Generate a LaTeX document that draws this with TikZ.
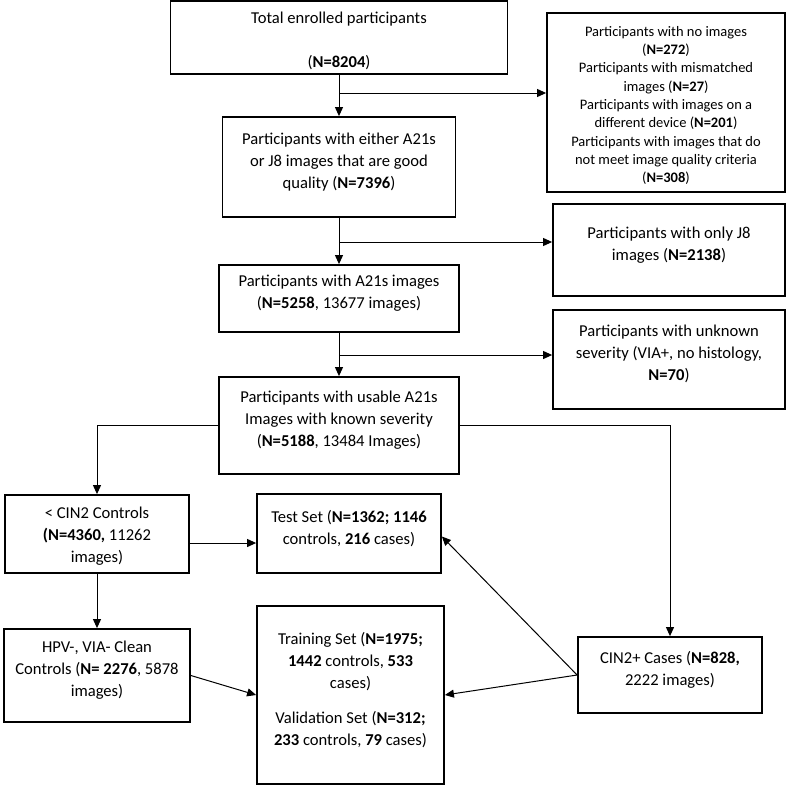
\documentclass[tikz,border=0pt]{standalone}
\usepackage{fontspec}
\setmainfont{Carlito}
\usepackage{tikz}
\usetikzlibrary{arrows.meta,positioning}

\begin{document}
\begin{tikzpicture}[
  x=1pt, y=-1pt,
  font=\fontsize{16.6}{22}\selectfont,
  box/.style={draw, line width=1.8pt, align=center, inner sep=2pt},
  small/.style={font=\fontsize{14.5}{18.3}\selectfont},
  lift/.style={execute at end node={\rule[-13pt]{0pt}{13pt}}},
  arr/.style={-{Triangle[length=9pt,width=8pt]}, line width=1pt}
]
\useasboundingbox (0,0) rectangle (787,785);
\node[box, minimum width=337pt, minimum height=73pt] (a) at (339,37.5) {\rule{0pt}{18.6pt}Total enrolled participants\\[22pt](\textbf{N=8204})};
\node[box, lift, minimum width=233pt, minimum height=100pt] (b) at (339,167) {Participants with either A21s\\or J8 images that are good\\quality (\textbf{N=7396})};
\node[box, small, minimum width=238pt, minimum height=179pt] (x) at (666,102.5) {\rule{0pt}{16pt}Participants with no images\\(\textbf{N=272})\\Participants with mismatched\\images (\textbf{N=27})\\Participants with images on a\\different device (\textbf{N=201})\\Participants with images that do\\not meet image quality criteria\\(\textbf{N=308})};
\node[box, lift, minimum width=240pt, minimum height=67pt] (c) at (339,298.5) {Participants with A21s images\\(\textbf{N=5258}, 13677 images)};
\node[box, lift, minimum width=232pt, minimum height=92pt] (j) at (669,250) {Participants with only J8\\images (\textbf{N=2138})};
\node[box, lift, minimum width=240pt, minimum height=97pt] (d) at (339,425.5) {Participants with usable A21s\\Images with known severity\\(\textbf{N=5188}, 13484 Images)};
\node[box, lift, minimum width=232pt, minimum height=99pt] (u) at (669,359.5) {Participants with unknown\\severity (VIA+, no histology,\\\textbf{N=70})};
\node[box, minimum width=184pt, minimum height=78pt] (e) at (97,534) {\rule{0pt}{16pt}< CIN2 Controls\\\textbf{(N=4360,} 11262\\images)};
\node[box, lift, minimum width=184pt, minimum height=79pt] (t) at (349,533.5) {Test Set (\textbf{N=1362; 1146}\\controls, \textbf{216} cases)};
\node[box, lift, minimum width=184pt, minimum height=76pt] (k) at (670,675) {CIN2+ Cases (\textbf{N=828,}\\2222 images)};
\node[box, lift, minimum width=186pt, minimum height=93pt] (f) at (97,675.5) {HPV-, VIA- Clean\\Controls (\textbf{N= 2276}, 5878\\images)};
\node[box, lift, minimum width=187pt, minimum height=178pt] (v) at (350.5,695) {Training Set (\textbf{N=1975;}\\\textbf{1442} controls, \textbf{533}\\cases)\\[13pt]Validation Set (\textbf{N=312;}\\\textbf{233} controls, \textbf{79} cases)};
\draw[arr] (a) -- (b);
\coordinate (s1) at (a.south |- 0,93);
\draw[arr] (s1) -- (s1 -| x.west);
\draw[arr] (b) -- (c);
\coordinate (s2) at (b.south |- 0,242);
\draw[arr] (s2) -- (s2 -| j.west);
\draw[arr] (c) -- (d);
\coordinate (s3) at (c.south |- 0,355);
\draw[arr] (s3) -- (s3 -| u.west);
\draw[arr] (d.west) -| (e.north);
\draw[arr] (d.east) -| (k.north);
\draw[arr] ([yshift=-9pt]e.east) -- ([yshift=-9pt]e.east -| t.west);
\draw[arr] (e) -- (f);
\draw[arr] (f.east) -- (v.west);
\draw[arr] (k.west) -- ([yshift=-3pt]t.east);
\draw[arr] (k.west) -- (v.east);
\end{tikzpicture}
\end{document}
